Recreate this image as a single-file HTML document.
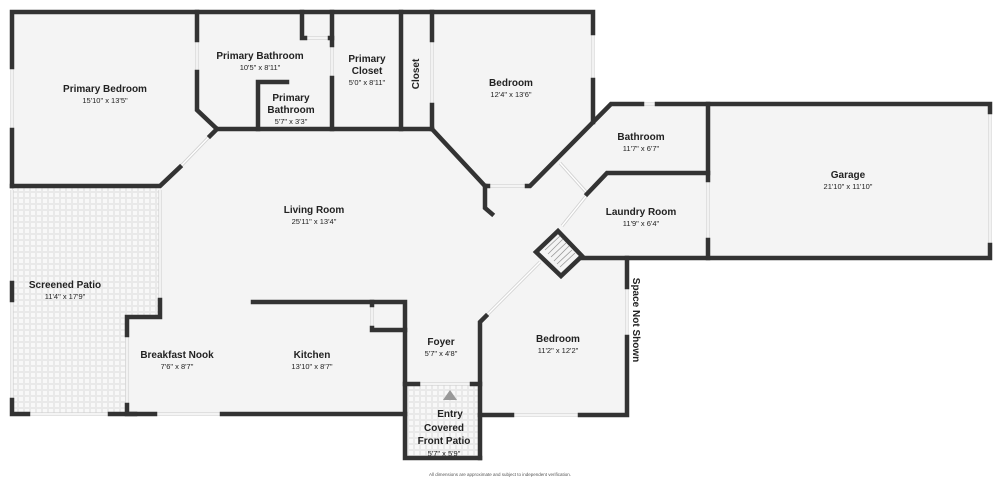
<!DOCTYPE html>
<html><head><meta charset="utf-8"><style>
html,body{margin:0;padding:0;background:#fff;}
svg{display:block;}
text{font-family:"Liberation Sans",sans-serif;fill:#222;text-anchor:middle;}
.t{font-size:10px;font-weight:bold;}
.d{font-size:7.5px;}
</style></head><body>
<svg width="1000" height="479" viewBox="0 0 1000 479" xmlns="http://www.w3.org/2000/svg">
<defs>
<pattern id="tile" width="6" height="6" patternUnits="userSpaceOnUse">
<rect width="6" height="6" fill="#f8f8f8"/>
<rect x="0.5" y="0.5" width="5" height="5" fill="none" stroke="#e3e3e3" stroke-width="0.7"/>
</pattern>
<g id="thin">
<line x1="12" y1="67" x2="12" y2="130"/>
<line x1="12" y1="190" x2="12" y2="283"/>
<line x1="12" y1="300" x2="12" y2="400"/>
<line x1="28" y1="414" x2="110" y2="414"/>
<line x1="155" y1="414" x2="222" y2="414"/>
<line x1="127" y1="335" x2="127" y2="405"/>
<line x1="160" y1="190" x2="160" y2="300"/>
<line x1="197" y1="40" x2="197" y2="72"/>
<line x1="180" y1="167" x2="210" y2="136"/>
<line x1="305" y1="38" x2="330" y2="38"/>
<line x1="332" y1="45" x2="332" y2="78"/>
<line x1="432" y1="40" x2="432" y2="105"/>
<line x1="593" y1="33" x2="593" y2="80"/>
<line x1="488" y1="186" x2="527" y2="186"/>
<line x1="560" y1="163" x2="587" y2="193"/>
<line x1="587" y1="195" x2="562" y2="226"/>
<line x1="642" y1="104" x2="657" y2="104"/>
<line x1="990" y1="112" x2="990" y2="245"/>
<line x1="708" y1="180" x2="708" y2="240"/>
<line x1="486" y1="316" x2="540" y2="262"/>
<line x1="627" y1="287" x2="627" y2="337"/>
<line x1="512" y1="415" x2="580" y2="415"/>
<line x1="418" y1="384" x2="472" y2="384"/>
<line x1="372" y1="305" x2="372" y2="328"/>
</g>
</defs>
<polygon points="12,12 593,12 593,122 611,104 990,104 990,258 627,258 627,414 480,414 480,458 405,458 405,414 12,414" fill="#f4f4f4"/>
<polygon points="12,186 160,186 160,317 127,317 127,414 12,414" fill="url(#tile)"/>
<rect x="405" y="384" width="75" height="74" fill="url(#tile)"/>
<use href="#thin" stroke="#d2d2d2" stroke-width="3.2" fill="none"/>
<use href="#thin" stroke="#ffffff" stroke-width="1.4" fill="none"/>
<g stroke="#333" stroke-width="4.5" fill="none" stroke-linecap="square" stroke-linejoin="miter">
<polyline points="12,67 12,12 593,12 593,33"/>
<line x1="12" y1="130" x2="12" y2="186"/>
<line x1="12" y1="283" x2="12" y2="300"/>
<polyline points="12,400 12,414 28,414"/>
<line x1="110" y1="414" x2="155" y2="414"/>
<polyline points="222,414 405,414"/>
<polyline points="127,405 127,414 135,414"/>
<polyline points="127,335 127,317 160,317 160,300"/>
<polyline points="12,186 160,186 180,167"/>
<polyline points="197,12 197,40"/>
<polyline points="197,72 197,110 217,129 432,129"/>
<line x1="210" y1="136" x2="217" y2="129"/>
<polyline points="302,12 302,38 305,38"/>
<polyline points="330,38 332,38 332,45"/>
<line x1="332" y1="12" x2="332" y2="38"/>
<line x1="332" y1="78" x2="332" y2="129"/>
<polyline points="287,82 258,82 258,129"/>
<line x1="401" y1="12" x2="401" y2="129"/>
<line x1="432" y1="12" x2="432" y2="40"/>
<line x1="432" y1="105" x2="432" y2="129"/>
<polyline points="432,129 485,186 488,186"/>
<polyline points="485,186 485,208 492,214"/>
<line x1="593" y1="80" x2="593" y2="122"/>
<polyline points="527,186 530,186 611,104 642,104"/>
<polyline points="657,104 990,104 990,112"/>
<polyline points="990,245 990,258 582,258"/>
<line x1="708" y1="104" x2="708" y2="180"/>
<line x1="708" y1="240" x2="708" y2="258"/>
<polyline points="587,194 607,173 708,173"/>
<polygon points="558,231 582,256 561,276 536,252"/>
<polyline points="627,258 627,287"/>
<polyline points="627,337 627,415 580,415"/>
<polyline points="512,415 480,415"/>
<polyline points="480,458 480,322 486,316"/>
<polyline points="253,302 405,302 405,458 480,458"/>
<polyline points="372,302 372,305"/>
<polyline points="372,328 372,330 405,330"/>
<line x1="405" y1="384" x2="418" y2="384"/>
<line x1="472" y1="384" x2="480" y2="384"/>
</g>
<g stroke="#999" stroke-width="0.8">
<line x1="545" y1="250" x2="560" y2="236"/>
<line x1="548" y1="254" x2="563" y2="239"/>
<line x1="551" y1="257" x2="566" y2="243"/>
<line x1="554" y1="261" x2="569" y2="246"/>
<line x1="557" y1="264" x2="572" y2="250"/>
<line x1="560" y1="267" x2="575" y2="253"/>
</g>
<polygon points="450,390 457,400 443,400" fill="#999"/>
<text class="t" x="105" y="92">Primary Bedroom</text><text class="d" x="105" y="103">15'10" x 13'5"</text>
<text class="t" x="260" y="59">Primary Bathroom</text><text class="d" x="260" y="70">10'5" x 8'11"</text>
<text class="t" x="291" y="101">Primary</text><text class="t" x="291" y="113">Bathroom</text><text class="d" x="291" y="124">5'7" x 3'3"</text>
<text class="t" x="367" y="62">Primary</text><text class="t" x="367" y="74">Closet</text><text class="d" x="367" y="85">5'0" x 8'11"</text>
<text class="t" transform="translate(419,74) rotate(-90)">Closet</text>
<text class="t" x="511" y="86">Bedroom</text><text class="d" x="511" y="97">12'4" x 13'6"</text>
<text class="t" x="641" y="140">Bathroom</text><text class="d" x="641" y="151">11'7" x 6'7"</text>
<text class="t" x="848" y="178">Garage</text><text class="d" x="848" y="189">21'10" x 11'10"</text>
<text class="t" x="641" y="215">Laundry Room</text><text class="d" x="641" y="226">11'9" x 6'4"</text>
<text class="t" x="314" y="213">Living Room</text><text class="d" x="314" y="224">25'11" x 13'4"</text>
<text class="t" x="65" y="288">Screened Patio</text><text class="d" x="65" y="299">11'4" x 17'9"</text>
<text class="t" x="177" y="358">Breakfast Nook</text><text class="d" x="177" y="369">7'6" x 8'7"</text>
<text class="t" x="312" y="358">Kitchen</text><text class="d" x="312" y="369">13'10" x 8'7"</text>
<text class="t" x="441" y="345">Foyer</text><text class="d" x="441" y="356">5'7" x 4'8"</text>
<text class="t" x="558" y="342">Bedroom</text><text class="d" x="558" y="353">11'2" x 12'2"</text>
<text class="t" x="450" y="417">Entry</text><text class="t" x="444" y="431">Covered</text><text class="t" x="444" y="444">Front Patio</text><text class="d" x="444" y="456">5'7" x 5'9"</text>
<text class="t" transform="translate(633,320) rotate(90)">Space Not Shown</text>
<text x="500" y="476" style="font-size:4.5px;fill:#555">All dimensions are approximate and subject to independent verification.</text>
</svg>
</body></html>
